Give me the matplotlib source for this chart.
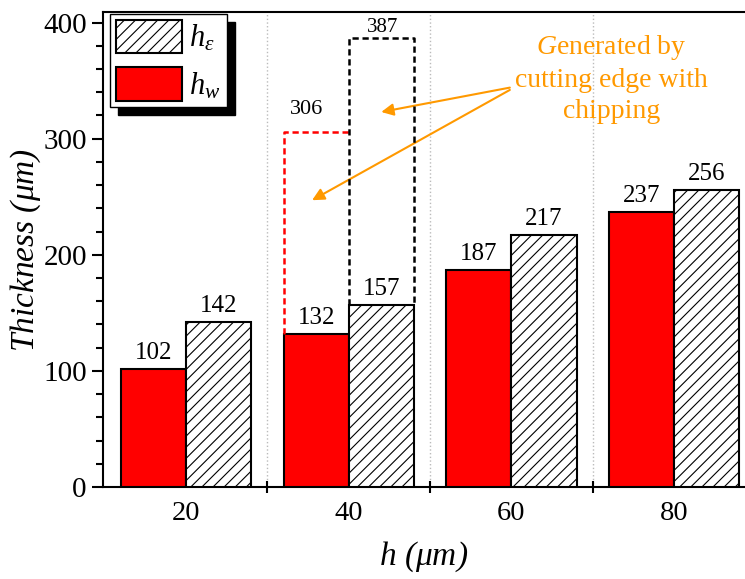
import matplotlib
matplotlib.use('Agg')
import matplotlib.pyplot as plt
from matplotlib.patches import Rectangle
from matplotlib.ticker import MultipleLocator, FixedLocator

plt.rcParams['font.family'] = ['Liberation Serif', 'DejaVu Serif']
plt.rcParams['mathtext.fontset'] = 'custom'
plt.rcParams['mathtext.rm'] = 'Liberation Serif'
plt.rcParams['mathtext.it'] = 'Liberation Serif:italic'
plt.rcParams['hatch.linewidth'] = 0.8

h = [20, 40, 60, 80]
h_w = [102, 132, 187, 237]
h_e = [142, 157, 217, 256]
chip_w = 306   # h_w at h=40 with chipping
chip_e = 387   # h_e at h=40 with chipping
bar_w = 8

fig = plt.figure(figsize=(7.45, 5.79), dpi=100)
ax = fig.add_axes([0.138, 0.159, 0.862, 0.82])

xw = [x - bar_w / 2 for x in h]
xe = [x + bar_w / 2 for x in h]
bw = ax.bar(xw, h_w, width=bar_w, color='#ff0000', edgecolor='black', linewidth=1.5, zorder=3)
be = ax.bar(xe, h_e, width=bar_w, color='white', edgecolor='black', hatch='///', linewidth=1.5, zorder=3)

for x, v in zip(xw, h_w):
    ax.text(x, v + 4, str(v), ha='center', va='bottom', fontsize=18)
for x, v in zip(xe, h_e):
    ax.text(x, v + 4, str(v), ha='center', va='bottom', fontsize=18)

# dashed outlines for chipping case at h=40
i = h.index(40)
x0 = xw[i] - bar_w / 2
ax.plot([x0, x0, h[i]], [h_w[i], chip_w, chip_w], ls=(0, (2.5, 1.5)), color='red', lw=1.8, zorder=4)
ax.plot([h[i], h[i], h[i] + bar_w, h[i] + bar_w], [h_e[i], chip_e, chip_e, h_e[i]],
        ls=(0, (2.5, 1.5)), color='black', lw=1.8, zorder=4)
ax.text(34.8, 317, str(chip_w), ha='center', va='bottom', fontsize=16)
ax.text(44.2, 388, str(chip_e), ha='center', va='bottom', fontsize=15)

orange = '#ff9900'
ax.text(72.3, 352, '$G$enerated by\ncutting edge with\nchipping', ha='center', va='center',
        fontsize=20, color=orange, linespacing=1.3)
arrow = dict(arrowstyle='-|>', color=orange, lw=1.5, mutation_scale=18, shrinkA=0, shrinkB=0)
ax.annotate('', xy=(44.0, 323), xytext=(59.8, 344), arrowprops=arrow)
ax.annotate('', xy=(35.5, 247), xytext=(59.8, 342), arrowprops=arrow)

ax.set_xlim(9.78, 88.7)
ax.set_ylim(0, 409)
ax.xaxis.set_major_locator(FixedLocator(h))
ax.xaxis.set_minor_locator(FixedLocator([30, 50, 70]))
ax.yaxis.set_major_locator(MultipleLocator(100))
ax.yaxis.set_minor_locator(MultipleLocator(20))
ax.tick_params(axis='x', which='major', length=0, labelsize=20.5, pad=10)
ax.tick_params(axis='x', which='minor', direction='inout', length=9, width=1.5)
ax.tick_params(axis='y', which='major', direction='out', length=8, width=1.5, labelsize=21)
ax.tick_params(axis='y', which='minor', direction='out', length=5, width=1.5)
ax.grid(axis='x', which='minor', ls=':', color='#bbbbbb', lw=1, zorder=0)

for s in ['left', 'bottom', 'top']:
    ax.spines[s].set_linewidth(1.5)
ax.spines['right'].set_visible(False)

ax.set_ylabel(r'Thickness ($\mu$m)', fontsize=24, style='italic', labelpad=0)
ax.set_xlabel(r'h ($\mu$m)', fontsize=24, style='italic', labelpad=10)

leg = ax.legend([be, bw], [r'$h_{\varepsilon}$', r'$h_w$'], loc='upper left',
                bbox_to_anchor=(0.011, 0.997), fontsize=22, fancybox=False,
                edgecolor='black', framealpha=1, handlelength=2.15, handleheight=1.3,
                borderpad=0.2, labelspacing=0.45, handletextpad=0.25, borderaxespad=0)
leg.get_frame().set_linewidth(1.0)
leg.set_zorder(10)

# black drop shadow behind the legend
fig.canvas.draw()
bb = leg.get_window_extent().transformed(fig.transFigure.inverted())
dx, dy = 8 / 745, 8 / 579
ax.add_patch(Rectangle((bb.x0 + dx, bb.y0 - dy), bb.width, bb.height,
                       transform=fig.transFigure, color='black', zorder=9, clip_on=False))

fig.savefig('out.png', dpi=100)
